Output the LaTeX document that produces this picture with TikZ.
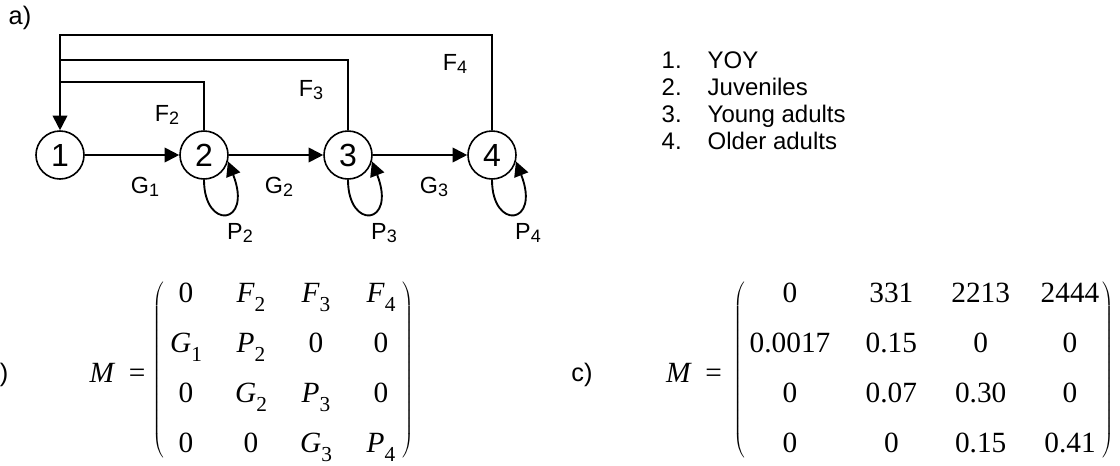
\documentclass[tikz,border=0pt]{standalone}
\usepackage{fontspec}
\setmainfont{Liberation Sans}
\newfontfamily\tms{Liberation Serif}
\usetikzlibrary{arrows.meta,matrix,positioning}

\newcommand{\lsub}[2]{#1\raisebox{-0.13em}{\fontsize{13.5}{13.5}\selectfont #2}}
\newcommand{\mvar}[2]{\textit{#1}\raisebox{-0.3em}{\fontsize{16}{16}\selectfont #2}}

\begin{document}
\begin{tikzpicture}[
    x=0.75pt, y=-0.75pt,
    st/.style={draw, circle, line width=1.2pt, minimum size=36pt, inner sep=0pt, font=\fontsize{24}{24}\selectfont},
    arr/.style={line width=1.4pt, -{Triangle[length=11pt,width=11pt]}},
    ln/.style={line width=1.4pt},
    lbl/.style={font=\fontsize{17.5}{17.5}\selectfont},
    tag/.style={font=\fontsize{19}{19}\selectfont},
    leg/.style={font=\fontsize{18}{18}\selectfont, anchor=base west},
    eq/.style={font=\tms\fontsize{22}{22}\selectfont},
    mtx/.style={matrix of nodes, inner sep=1pt, row sep=16.5pt, column sep=#1,
        left delimiter=(, right delimiter=),
        nodes={font=\tms\fontsize{22}{22}\selectfont, text height=16pt, text depth=5pt,
               inner sep=0pt, align=center}},
]
\useasboundingbox (0,0) rectangle (1120,465);

% a) life cycle graph
\node[tag] (ta) at (20,18) {a)};
\node[st] (n1) at (60,155) {1};
\node[st] (n2) at (204,155) {2};
\node[st] (n3) at (348,155) {3};
\node[st] (n4) at (492,155) {4};

\coordinate (f2) at (60,82);
\coordinate (f3) at (60,60);
\coordinate (f4) at (60,35);

\draw[arr] (n1) -- (n2);
\draw[arr] (n2) -- (n3);
\draw[arr] (n3) -- (n4);
\draw[ln] (n2.north) |- (f2);
\draw[ln] (n3.north) |- (f3);
\draw[arr] (n4.north) |- (f4) -- (n1.north);
\foreach \s in {2,3,4}
    \draw[arr] (n\s.south) .. controls +(0,51) and +(25,64) .. (n\s.-15);

\node[lbl] (lf2) at (167,115) {\lsub{F}{2}};
\node[lbl] (lf3) at (311,90) {\lsub{F}{3}};
\node[lbl] (lf4) at (455,64) {\lsub{F}{4}};
\node[lbl] (lg1) at (145,187) {\lsub{G}{1}};
\node[lbl] (lg2) at (279,187) {\lsub{G}{2}};
\node[lbl] (lg3) at (434,187) {\lsub{G}{3}};
\node[lbl] (lp2) at (240,233) {\lsub{P}{2}};
\node[lbl] (lp3) at (384,233) {\lsub{P}{3}};
\node[lbl] (lp4) at (528,233) {\lsub{P}{4}};

% legend
\foreach \i/\t in {1/YOY, 2/Juveniles, 3/Young adults, 4/Older adults} {
    \node[leg] (num\i) at (657,41+27*\i) {\i.};
    \node[leg] (leg\i) at (703,41+27*\i) {\t};
}

% b) symbolic matrix
\node[tag, anchor=east] (tb) at (13,375) {b)};
\node[eq] (mbl) at (117.5,373) {\textit{M}\hspace{10pt}=};
\matrix[mtx=20.75pt, nodes={text width=28pt}] (mb) at (283.5,370) {
    0 & \mvar{F}{2} & \mvar{F}{3} & \mvar{F}{4} \\
    \mvar{G}{1} & \mvar{P}{2} & 0 & 0 \\
    0 & \mvar{G}{2} & \mvar{P}{3} & 0 \\
    0 & 0 & \mvar{G}{3} & \mvar{P}{4} \\
};

% c) numeric matrix
\node[tag] (tc) at (582,375) {c)};
\node[eq] (mcl) at (694,373) {\textit{M}\hspace{10pt}=};
\matrix[mtx=23pt, nodes={text width=44pt}, column 1/.style={nodes={text width=62pt}}] (mc) at (924,370) {
    0 & 331 & 2213 & 2444 \\
    0.0017 & 0.15 & 0 & 0 \\
    0 & 0.07 & 0.30 & 0 \\
    0 & 0 & 0.15 & 0.41 \\
};
\end{tikzpicture}
\end{document}
